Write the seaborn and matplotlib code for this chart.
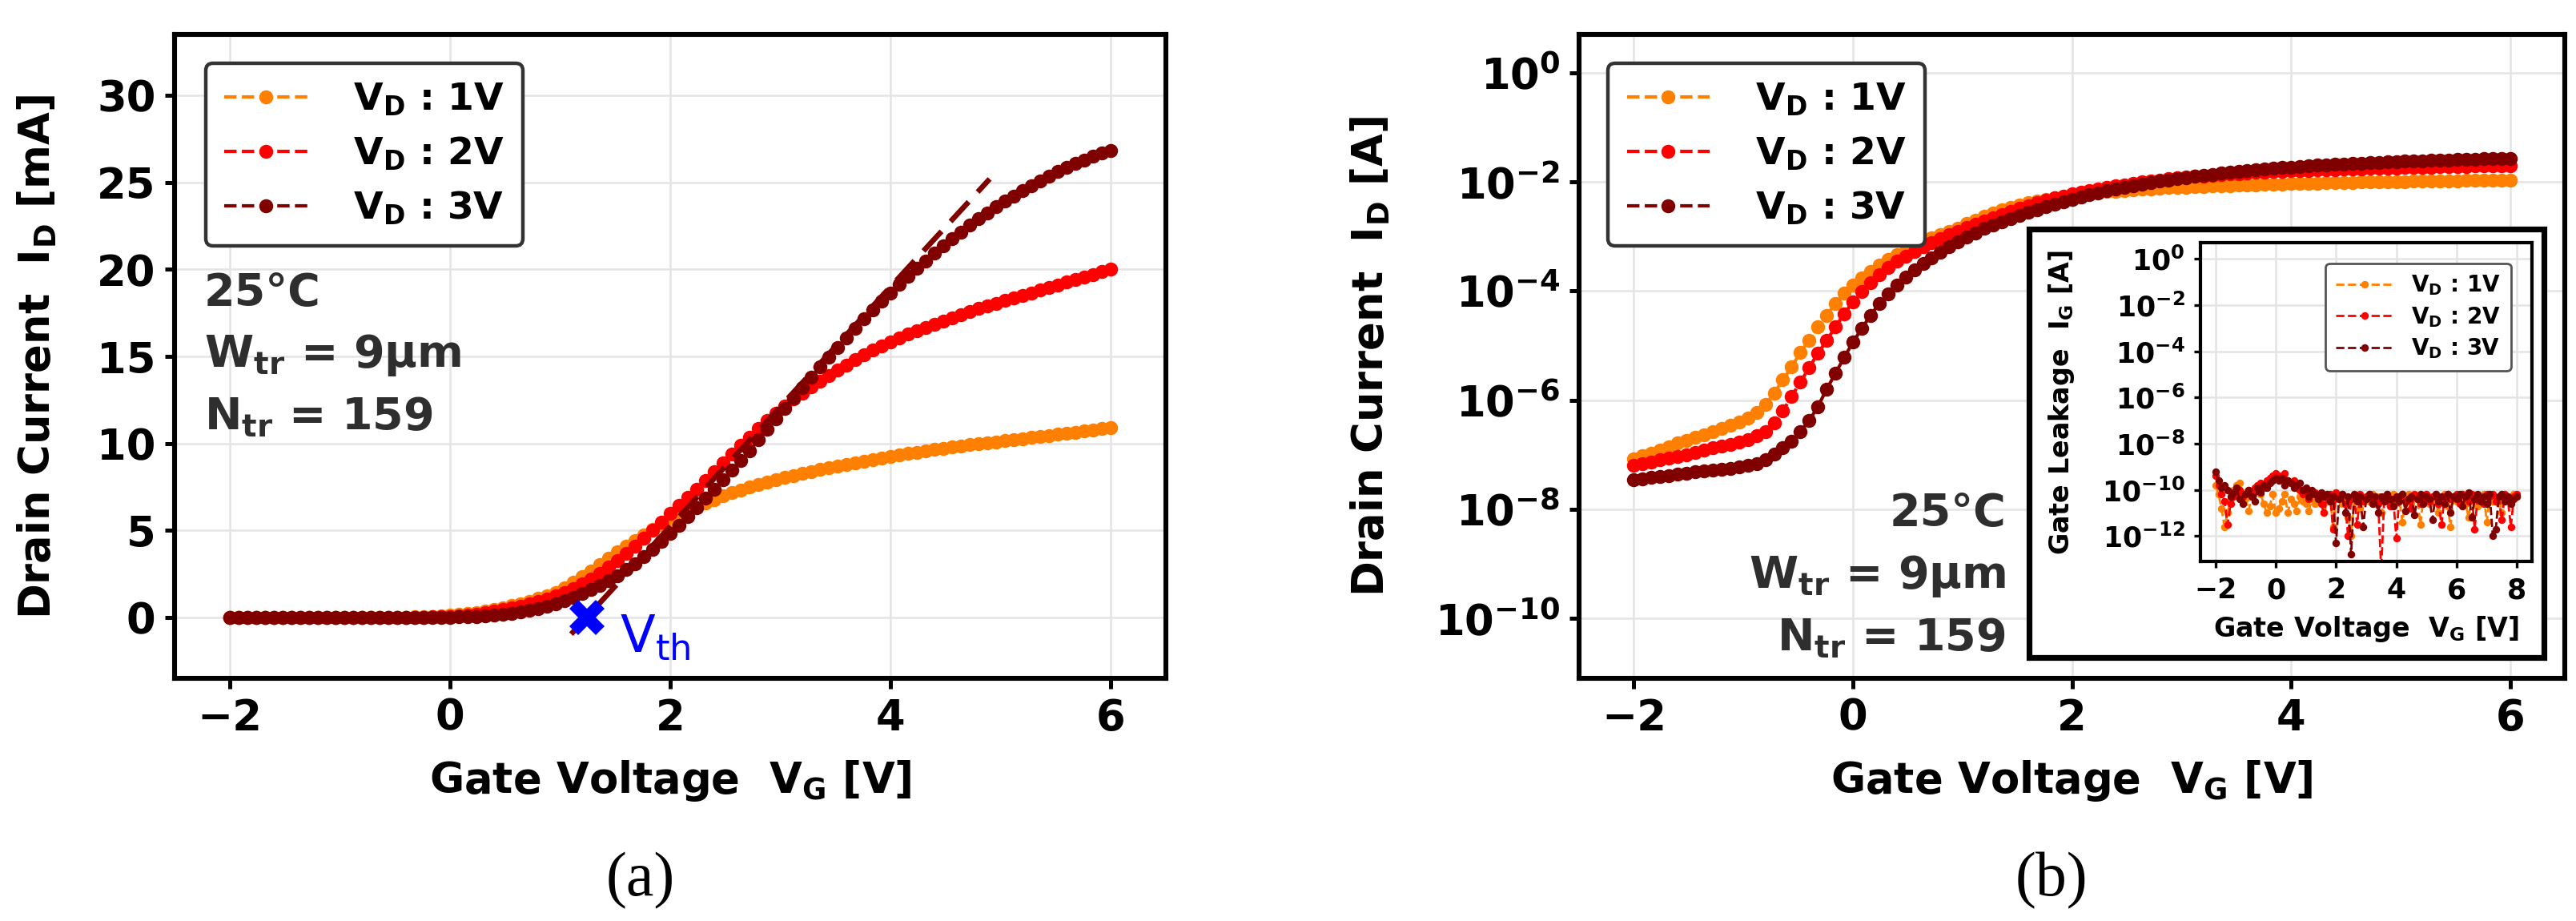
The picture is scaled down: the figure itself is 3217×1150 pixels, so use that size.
import numpy as np
import pandas as pd
import matplotlib
matplotlib.use("Agg")
import matplotlib.pyplot as plt
import seaborn as sns
from matplotlib.ticker import FixedLocator, FuncFormatter, NullLocator
from matplotlib.patches import Rectangle

# ---------------- data ----------------
# gate-voltage sweep of the transfer curves (V)
vg = np.linspace(-2.0, 6.0, 101)

# drain current in mA for V_D = 1 V, 2 V, 3 V
id_vd1_ma = [8.3e-05, 9.5e-05, 1.07e-04, 1.23e-04, 1.41e-04, 1.62e-04, 1.82e-04, 2.09e-04, 2.34e-04, 2.63e-04,
             3.02e-04, 3.47e-04, 3.98e-04, 4.68e-04, 5.89e-04, 8.32e-04, 1.32e-03, 2.34e-03, 4.07e-03, 7.41e-03,
             1.26e-02, 2.19e-02, 3.55e-02, 5.89e-02, 9.12e-02, 0.129, 0.174, 0.229, 0.295, 0.372,
             0.457, 0.556, 0.668, 0.794, 0.933, 1.08, 1.245, 1.42, 1.70, 2.00,
             2.33, 2.68, 3.04, 3.40, 3.76, 4.10, 4.43, 4.76, 5.06, 5.35,
             5.62, 5.88, 6.12, 6.35, 6.57, 6.78, 6.98, 7.16, 7.33, 7.49,
             7.64, 7.78, 7.91, 8.03, 8.15, 8.27, 8.38, 8.49, 8.60, 8.70,
             8.80, 8.90, 8.99, 9.08, 9.17, 9.26, 9.34, 9.42, 9.50, 9.58,
             9.65, 9.72, 9.79, 9.86, 9.92, 9.98, 10.04, 10.10, 10.16, 10.22,
             10.28, 10.34, 10.40, 10.46, 10.52, 10.58, 10.64, 10.70, 10.77, 10.84,
             10.90]
id_vd2_ma = [6.46e-05, 6.92e-05, 7.41e-05, 7.94e-05, 8.51e-05, 9.12e-05, 1.00e-04, 1.10e-04, 1.20e-04, 1.32e-04,
             1.45e-04, 1.55e-04, 1.70e-04, 1.91e-04, 2.19e-04, 2.63e-04, 3.80e-04, 6.31e-04, 1.17e-03, 2.14e-03,
             3.89e-03, 7.24e-03, 1.23e-02, 2.19e-02, 3.80e-02, 6.31e-02, 9.77e-02, 0.141, 0.200, 0.269,
             0.347, 0.437, 0.53, 0.64, 0.76, 0.90, 1.06, 1.24, 1.44, 1.66,
             1.92, 2.22, 2.54, 2.88, 3.26, 3.68, 4.10, 4.56, 5.02, 5.49,
             5.97, 6.44, 6.91, 7.38, 7.87, 8.38, 8.90, 9.40, 9.88, 10.35,
             10.85, 11.30, 11.75, 12.15, 12.55, 12.90, 13.25, 13.58, 13.90, 14.20,
             14.50, 14.80, 15.08, 15.35, 15.60, 15.84, 16.06, 16.27, 16.47, 16.67,
             16.86, 17.05, 17.23, 17.41, 17.58, 17.75, 17.91, 18.06, 18.21, 18.36,
             18.50, 18.66, 18.81, 18.96, 19.11, 19.26, 19.41, 19.56, 19.71, 19.86,
             20.00]
id_vd3_ma = [3.47e-05, 3.63e-05, 3.80e-05, 3.98e-05, 4.17e-05, 4.37e-05, 4.57e-05, 4.79e-05, 5.01e-05, 5.25e-05,
             5.37e-05, 5.62e-05, 5.89e-05, 6.31e-05, 6.92e-05, 8.13e-05, 1.02e-04, 1.32e-04, 1.74e-04, 2.63e-04,
             4.17e-04, 7.59e-04, 1.58e-03, 3.09e-03, 6.03e-03, 1.15e-02, 2.04e-02, 3.55e-02, 5.89e-02, 8.91e-02,
             0.129, 0.182, 0.245, 0.32, 0.41, 0.52, 0.65, 0.80, 0.97, 1.17,
             1.39, 1.60, 1.84, 2.10, 2.40, 2.74, 3.10, 3.50, 3.93, 4.37,
             4.83, 5.31, 5.81, 6.32, 6.84, 7.36, 7.90, 8.45, 9.00, 9.56,
             10.20, 10.80, 11.40, 12.00, 12.60, 13.20, 13.80, 14.40, 14.97, 15.53,
             16.08, 16.62, 17.15, 17.66, 18.16, 18.65, 19.13, 19.60, 20.06, 20.50,
             20.93, 21.35, 21.76, 22.15, 22.53, 22.90, 23.25, 23.59, 23.92, 24.23,
             24.53, 24.82, 25.10, 25.37, 25.62, 25.86, 26.09, 26.30, 26.50, 26.68,
             26.85]

# gate leakage (inset): gate-voltage sweep and log10(I_G [A])
vg_leak = np.linspace(-2.0, 8.0, 101)
ig_vd1_log = [-9.8, -10.2, -10.8, -11.6, -11.0, -10.4, -10.0, -9.8, -9.7, -10.1, -10.4,
              -10.9, -10.3, -10.0, -9.9, -10.2, -10.6, -11.0, -10.7, -10.2, -11.0,
              -10.8, -10.5, -10.2, -11.0, -10.4, -10.6, -10.9, -10.3, -10.5, -10.6,
              -10.9, -10.4, -10.6, -10.5, -10.3, -11.0, -10.5, -10.3, -11.6, -10.4,
              -10.3, -10.6, -10.4, -11.2, -12.0, -10.5, -10.3, -10.8, -10.4, -10.3,
              -10.5, -10.2, -10.6, -10.3, -11.0, -10.4, -10.3, -10.7, -10.2, -10.5,
              -10.4, -11.4, -10.5, -10.2, -10.6, -10.3, -10.4, -11.5, -10.3, -10.2,
              -10.6, -10.3, -10.5, -11.0, -10.4, -10.2, -10.7, -11.6, -10.3, -10.5,
              -10.4, -10.2, -10.6, -11.2, -10.3, -10.5, -10.7, -10.3, -10.2, -11.4,
              -10.3, -10.5, -10.4, -10.6, -11.0, -10.4, -10.3, -10.5, -10.2, -10.3]
ig_vd2_log = [-9.4, -9.8, -10.2, -10.5, -11.5, -10.6, -10.3, -10.1, -10.0, -10.3, -10.2,
              -10.0, -10.2, -9.9, -9.8, -9.7, -9.9, -9.6, -9.5, -9.4, -9.3,
              -9.4, -9.5, -9.3, -9.6, -9.7, -9.6, -9.9, -10.0, -10.2, -10.0,
              -10.4, -10.2, -10.1, -10.3, -10.6, -11.0, -10.3, -10.2, -11.7, -10.1,
              -10.3, -10.2, -10.6, -12.0, -10.4, -10.3, -11.5, -10.2, -10.5, -10.3,
              -10.2, -10.5, -10.4, -10.6, -13.5, -10.3, -10.2, -10.7, -10.4, -12.1,
              -10.3, -10.2, -10.5, -10.4, -10.8, -10.2, -10.3, -10.6, -10.4, -10.2,
              -10.5, -10.3, -10.2, -10.6, -11.5, -10.3, -10.2, -10.4, -10.3, -10.2,
              -10.6, -10.2, -10.3, -10.5, -10.2, -11.7, -10.3, -10.4, -10.6, -10.2,
              -10.3, -10.2, -10.5, -10.3, -11.3, -10.2, -10.4, -11.6, -10.3, -10.2]
ig_vd3_log = [-9.2, -9.6, -9.9, -9.8, -10.0, -10.3, -10.1, -9.9, -10.4, -10.6, -10.2,
              -10.0, -10.3, -10.5, -9.9, -10.1, -9.8, -9.9, -9.7, -9.6, -9.5,
              -9.6, -9.5, -9.8, -9.6, -9.7, -9.9, -9.8, -9.7, -10.0, -9.9,
              -10.3, -10.0, -10.2, -10.4, -10.1, -10.3, -10.2, -10.5, -10.3, -12.3,
              -10.4, -10.2, -11.0, -10.3, -12.8, -10.2, -10.5, -10.3, -11.6, -10.4,
              -10.2, -10.6, -10.3, -11.0, -10.3, -10.5, -10.2, -10.4, -10.7, -10.3,
              -10.5, -10.2, -10.9, -10.4, -10.3, -11.1, -10.4, -10.2, -10.6, -10.3,
              -10.4, -11.3, -10.2, -10.5, -10.3, -10.6, -10.2, -11.0, -10.3, -10.4,
              -10.2, -10.7, -10.3, -10.1, -11.2, -10.4, -10.2, -10.5, -10.3, -10.6,
              -10.2, -12.0, -11.7, -10.3, -10.2, -10.5, -10.3, -10.6, -10.4, -10.3]

series_labels = [r"$\mathbf{V_D}$ : 1V", r"$\mathbf{V_D}$ : 2V", r"$\mathbf{V_D}$ : 3V"]
series_colors = ["#ff8000", "#ff0000", "#800000"]

# threshold voltage extraction (linear fit line)
vth = 1.24
vth_fit_vg = [1.10, 4.90]
vth_fit_id = [-0.96, 25.20]

x_ticks = [-2, 0, 2, 4, 6]
lin_yticks = [0, 5, 10, 15, 20, 25, 30]
log_yticks = [1e0, 1e-2, 1e-4, 1e-6, 1e-8, 1e-10]
inset_xticks = [-2, 0, 2, 4, 6, 8]
inset_yticks = [1e0, 1e-2, 1e-4, 1e-6, 1e-8, 1e-10, 1e-12]
device_text = ["25°C", r"$\mathbf{W_{tr}}$ = 9μm", r"$\mathbf{N_{tr}}$ = 159"]

# ---------------- style ----------------
sns.set_theme(style="whitegrid")
plt.rcParams.update({
    "font.family": ["DejaVu Sans"],
    "font.weight": "bold",
    "axes.labelweight": "bold",
    "mathtext.fontset": "dejavusans",
    "axes.edgecolor": "black",
    "axes.linewidth": 2.2,
    "grid.color": "#e4e4e4",
    "grid.linewidth": 0.9,
    "xtick.bottom": True,
    "ytick.left": True,
    "xtick.color": "black",
    "ytick.color": "black",
    "axes.labelcolor": "black",
    "text.color": "black",
})

DPI = 200
fig = plt.figure(figsize=(3217 / DPI, 1150 / DPI), dpi=DPI)
fig.patch.set_facecolor("white")

ax_a = fig.add_axes([0.0678, 0.2635, 0.3848, 0.6990])
ax_b = fig.add_axes([0.6130, 0.2635, 0.3827, 0.6990])

main_vals = [id_vd1_ma, id_vd2_ma, id_vd3_ma]
leak_vals = [ig_vd1_log, ig_vd2_log, ig_vd3_log]

# long-form tables
df_main = pd.concat([pd.DataFrame({"VG": vg, "ID_mA": np.asarray(v), "series": lab})
                     for v, lab in zip(main_vals, series_labels)], ignore_index=True)
df_main["ID_A"] = df_main["ID_mA"] * 1e-3
df_leak = pd.concat([pd.DataFrame({"VG": vg_leak, "IG": 10.0 ** np.asarray(v), "series": lab})
                     for v, lab in zip(leak_vals, series_labels)], ignore_index=True)

line_kw = dict(marker="o", markersize=6.3, markeredgewidth=0, linestyle="--", linewidth=1.5)


def style_axes(ax, tick_size, tick_len=4.5, tick_w=1.8):
    ax.tick_params(axis="both", which="major", labelsize=tick_size, length=tick_len,
                   width=tick_w, direction="out", pad=4, color="black")
    for lab in ax.get_xticklabels() + ax.get_yticklabels():
        lab.set_fontweight("bold")
    for s in ax.spines.values():
        s.set_color("black")
    ax.grid(True, which="major")


def bold_pow(v, pos):
    return r"$\mathbf{10^{%d}}$" % int(round(np.log10(v)))


# ---------------- panel (a) ----------------
for lab, col in zip(series_labels, series_colors):
    sub = df_main[df_main["series"] == lab]
    sns.lineplot(data=sub, x="VG", y="ID_mA", color=col, label=lab, ax=ax_a,
                 estimator=None, sort=False, **line_kw)

ax_a.plot(vth_fit_vg, vth_fit_id, color="#800000", linestyle=(0, (5, 2.5)), linewidth=2.4, zorder=4)
ax_a.plot([vth], [0], marker="X", color="blue", markersize=16, markeredgewidth=0, linestyle="none", zorder=6)
ax_a.text(vth + 0.30, -2.0, r"$\mathregular{V_{th}}$", color="blue", fontsize=23,
          fontweight="normal", ha="left", va="baseline", zorder=6)

ax_a.set_xlim(-2.5, 6.5)
ax_a.set_ylim(-3.5, 33.5)
ax_a.xaxis.set_major_locator(FixedLocator(x_ticks))
ax_a.yaxis.set_major_locator(FixedLocator(lin_yticks))
ax_a.set_xlabel(r"Gate Voltage  $\mathbf{V_G}$ [V]", fontsize=19, fontweight="bold")
ax_a.set_ylabel(r"Drain Current  $\mathbf{I_D}$ [mA]", fontsize=19, fontweight="bold")
style_axes(ax_a, 19)
ax_a.xaxis.set_label_coords(0.5, -0.125)
ax_a.yaxis.set_label_coords(-0.117, 0.5)

for txt, yfrac in zip(device_text, [0.580, 0.484, 0.387]):
    ax_a.text(0.0295, yfrac, txt, transform=ax_a.transAxes, fontsize=20, fontweight="bold",
              color="#2e2e2e", ha="left", va="baseline")

leg_a = ax_a.legend(loc="upper left", bbox_to_anchor=(0.012, 0.985),
                    frameon=True, fancybox=True, edgecolor="#333333", framealpha=1.0,
                    handlelength=2.2, handletextpad=1.2, labelspacing=0.45,
                    borderpad=0.5, prop={"weight": "bold", "size": 17})
leg_a.get_frame().set_linewidth(1.6)

# ---------------- panel (b) ----------------
for lab, col in zip(series_labels, series_colors):
    sub = df_main[df_main["series"] == lab]
    sns.lineplot(data=sub, x="VG", y="ID_A", color=col, label=lab, ax=ax_b,
                 estimator=None, sort=False, **line_kw)
ax_b.set_yscale("log")
ax_b.set_xlim(-2.5, 6.5)
ax_b.set_ylim(10 ** -11.1, 10 ** 0.7)
ax_b.xaxis.set_major_locator(FixedLocator(x_ticks))
ax_b.yaxis.set_major_locator(FixedLocator(log_yticks))
ax_b.yaxis.set_minor_locator(NullLocator())
ax_b.yaxis.set_major_formatter(FuncFormatter(bold_pow))
ax_b.set_xlabel(r"Gate Voltage  $\mathbf{V_G}$ [V]", fontsize=19, fontweight="bold")
ax_b.set_ylabel(r"Drain Current  $\mathbf{I_D}$ [A]", fontsize=19, fontweight="bold")
style_axes(ax_b, 19)
ax_b.xaxis.set_label_coords(0.5, -0.125)
ax_b.yaxis.set_label_coords(-0.190, 0.5)

for txt, yfrac in zip(device_text, [0.237, 0.141, 0.0435]):
    ax_b.text(0.433, yfrac, txt, transform=ax_b.transAxes, fontsize=20, fontweight="bold",
              color="#2e2e2e", ha="right", va="baseline")

leg_b = ax_b.legend(loc="upper left", bbox_to_anchor=(0.010, 0.985),
                    frameon=True, fancybox=True, edgecolor="#333333", framealpha=1.0,
                    handlelength=2.2, handletextpad=1.2, labelspacing=0.45,
                    borderpad=0.5, prop={"weight": "bold", "size": 17})
leg_b.get_frame().set_linewidth(1.6)

# ---------------- inset (gate leakage) ----------------
frame = Rectangle((0.7877, 0.2861), 0.1999, 0.4652, transform=fig.transFigure,
                  facecolor="white", edgecolor="black", linewidth=2.6, zorder=2)
fig.add_artist(frame)

ax_in = fig.add_axes([0.8542, 0.3904, 0.1287, 0.3461])
ax_in.set_zorder(5)
leak_kw = dict(marker="o", markersize=3.4, markeredgewidth=0, linestyle="--", linewidth=1.0)
for lab, col in zip(series_labels, series_colors):
    sub = df_leak[df_leak["series"] == lab]
    sns.lineplot(data=sub, x="VG", y="IG", color=col, label=lab, ax=ax_in,
                 estimator=None, sort=False, **leak_kw)
ax_in.set_yscale("log")
ax_in.set_xlim(-2.5, 8.5)
ax_in.set_ylim(10 ** -13.1, 10 ** 0.7)
ax_in.xaxis.set_major_locator(FixedLocator(inset_xticks))
ax_in.yaxis.set_major_locator(FixedLocator(inset_yticks))
ax_in.yaxis.set_minor_locator(NullLocator())
ax_in.yaxis.set_major_formatter(FuncFormatter(bold_pow))
ax_in.set_xlabel(r"Gate Voltage  $\mathbf{V_G}$ [V]", fontsize=12, fontweight="bold")
ax_in.set_ylabel(r"Gate Leakage  $\mathbf{I_G}$ [A]", fontsize=12, fontweight="bold")
style_axes(ax_in, 12.5, tick_len=3, tick_w=1.2)
for s in ax_in.spines.values():
    s.set_linewidth(1.5)
ax_in.xaxis.set_label_coords(0.5, -0.165)
ax_in.yaxis.set_label_coords(-0.375, 0.5)
leg_in = ax_in.legend(loc="upper right", bbox_to_anchor=(0.97, 0.97), frameon=True,
                      fancybox=True, edgecolor="#555555", framealpha=1.0,
                      handlelength=2.6, handletextpad=0.8, labelspacing=0.35,
                      borderpad=0.45, prop={"weight": "bold", "size": 10})
leg_in.get_frame().set_linewidth(1.0)

# ---------------- captions ----------------
fig.text(0.2487, 0.0443, "(a)", ha="center", va="center", fontsize=28,
         family="Liberation Serif", fontweight="normal")
fig.text(0.7964, 0.0443, "(b)", ha="center", va="center", fontsize=28,
         family="Liberation Serif", fontweight="normal")

fig.savefig("out.png", dpi=DPI, facecolor="white")
